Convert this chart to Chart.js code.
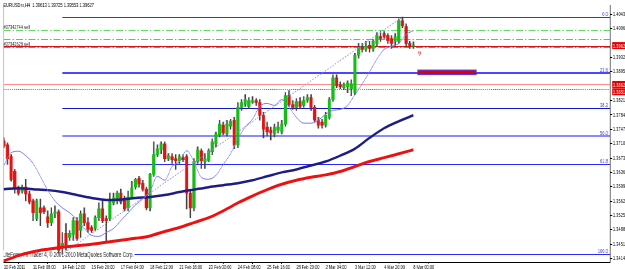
<!DOCTYPE html>
<html><head><meta charset="utf-8">
<script src="https://cdn.jsdelivr.net/npm/chart.js@4.4.1/dist/chart.umd.min.js"></script>
<style>
html,body{margin:0;padding:0;background:#fff;overflow:hidden;width:625px;height:269px;}
#wrap{width:900px;height:269px;transform:scaleX(0.6944444);transform-origin:0 0;}
canvas{display:block;}
</style></head><body>
<div id="wrap"><canvas id="c" width="900" height="269"></canvas></div>
<script>
// ---------- data ----------
const symbolTitle = 'EURUSDm,H4  1.39613 1.39725 1.39553 1.39627';
const copyrightText = 'LiteForex Fx Trader 4, \u00A9 2001-2010 MetaQuotes Software Corp.';
const xTickLabels = ['10 Feb 2011','11 Feb 08:00','14 Feb 12:00','15 Feb 20:00','17 Feb 04:00','18 Feb 12:00','21 Feb 16:00','23 Feb 00:00','24 Feb 08:00','25 Feb 16:00','28 Feb 20:00','2 Mar 04:00','3 Mar 12:00','4 Mar 20:00','8 Mar 00:00'];
const xTickIdx = [0,8,16,24,32,40,48,56,64,72,80,88,96,104,112];
const yTickValues = [1.34140,1.34510,1.34880,1.35250,1.35620,1.35990,1.36360,1.36730,1.37100,1.37470,1.37840,1.38210,1.38950,1.39320,1.40060,1.40430];

const opens = [1.37172,1.37070,1.36766,1.36385,1.35954,1.35878,1.35979,1.35802,1.35624,1.35167,1.35446,1.35446,1.35218,1.35066,1.35294,1.35345,1.34432,1.34787,1.34685,1.34761,1.35117,1.34863,1.35294,1.35066,1.34939,1.34914,1.35193,1.35421,1.35167,1.35167,1.35573,1.35624,1.35827,1.35700,1.35446,1.35726,1.35979,1.36208,1.36081,1.35928,1.35446,1.36309,1.36816,1.36943,1.37096,1.36715,1.36766,1.36715,1.36664,1.36740,1.36766,1.35827,1.35446,1.36639,1.36918,1.36639,1.36664,1.36893,1.37096,1.37324,1.37578,1.37349,1.37552,1.37704,1.37070,1.38034,1.38110,1.38060,1.38161,1.38212,1.38161,1.37831,1.37527,1.37451,1.37349,1.37451,1.37400,1.37603,1.38339,1.38110,1.38034,1.38186,1.38085,1.38212,1.38288,1.38034,1.37704,1.37654,1.37578,1.37780,1.38237,1.38795,1.38618,1.38542,1.38567,1.38516,1.38415,1.39379,1.39582,1.39531,1.39633,1.39556,1.39683,1.39861,1.39937,1.39886,1.39810,1.39734,1.39734,1.40267,1.40115,1.39683,1.39613];
const highs = [1.37248,1.37121,1.36816,1.36436,1.36005,1.36030,1.36182,1.35878,1.35675,1.35675,1.35675,1.35497,1.35370,1.35446,1.35497,1.35396,1.34812,1.35041,1.34863,1.35193,1.35193,1.35370,1.35446,1.35193,1.34990,1.35243,1.35573,1.35624,1.35243,1.35827,1.35827,1.35878,1.35928,1.35751,1.35878,1.36131,1.36208,1.36258,1.36157,1.35979,1.36334,1.37146,1.37070,1.37146,1.37146,1.36842,1.36842,1.36816,1.36816,1.36816,1.36816,1.35878,1.36715,1.37019,1.36969,1.36842,1.36969,1.37222,1.37400,1.37704,1.37654,1.37704,1.37730,1.37780,1.38161,1.38237,1.38364,1.38288,1.38313,1.38263,1.38237,1.37907,1.37654,1.37527,1.37603,1.37654,1.37704,1.38415,1.38465,1.38212,1.38263,1.38288,1.38313,1.38364,1.38364,1.38085,1.37780,1.37730,1.37907,1.38288,1.38871,1.38871,1.38694,1.38668,1.38719,1.38745,1.39430,1.39683,1.39683,1.39734,1.39734,1.39785,1.39962,1.39988,1.39988,1.39937,1.39886,1.39937,1.40317,1.40361,1.40191,1.39734,1.39725];
const lows = [1.36994,1.36563,1.36131,1.35827,1.35776,1.35827,1.35624,1.35548,1.35117,1.35117,1.34990,1.35294,1.34939,1.34990,1.35193,1.34279,1.34254,1.34356,1.34609,1.34609,1.34609,1.34685,1.34990,1.34812,1.34812,1.34863,1.35117,1.35066,1.34559,1.35117,1.35523,1.35548,1.35548,1.35370,1.35370,1.35700,1.35928,1.35979,1.35878,1.35396,1.35370,1.36258,1.36766,1.36842,1.36639,1.36664,1.36588,1.36436,1.36588,1.36639,1.35421,1.35193,1.35370,1.36588,1.36461,1.36461,1.36639,1.36816,1.37019,1.37273,1.37324,1.37298,1.37476,1.36969,1.36994,1.37958,1.38060,1.38009,1.38136,1.38085,1.37704,1.37248,1.37298,1.37197,1.37273,1.37375,1.37349,1.37552,1.38060,1.37983,1.37958,1.38009,1.38034,1.38161,1.37958,1.37654,1.37501,1.37501,1.37527,1.37730,1.38186,1.38542,1.38516,1.38491,1.38415,1.38339,1.38364,1.39303,1.39455,1.39480,1.39455,1.39480,1.39607,1.39734,1.39810,1.39683,1.39556,1.39633,1.39683,1.40089,1.39607,1.39556,1.39553];
const closes = [1.37045,1.36715,1.36182,1.35954,1.35827,1.35979,1.35802,1.35599,1.35320,1.35624,1.35320,1.35345,1.35066,1.35294,1.35345,1.34356,1.34533,1.34482,1.34787,1.35117,1.34660,1.35294,1.35066,1.34888,1.34863,1.35193,1.35421,1.35117,1.35117,1.35624,1.35700,1.35827,1.35599,1.35421,1.35726,1.35954,1.36182,1.36055,1.35928,1.35446,1.36309,1.36816,1.36969,1.37096,1.36715,1.36791,1.36690,1.36664,1.36766,1.36690,1.35827,1.35446,1.36639,1.36943,1.36664,1.36715,1.36918,1.37146,1.37349,1.37603,1.37375,1.37603,1.37679,1.37070,1.38034,1.38161,1.38237,1.38212,1.38212,1.38161,1.37831,1.37476,1.37400,1.37375,1.37527,1.37527,1.37603,1.38339,1.38110,1.38034,1.38186,1.38060,1.38212,1.38288,1.38034,1.37704,1.37578,1.37578,1.37831,1.38237,1.38795,1.38592,1.38567,1.38618,1.38668,1.38643,1.39379,1.39582,1.39531,1.39607,1.39556,1.39734,1.39886,1.39810,1.39861,1.39759,1.39683,1.39861,1.40267,1.40140,1.39683,1.39613,1.39627];

const maSlowIdx = [0,4,8,12,16,20,24,28,32,36,40,44,48,52,56,60,64,68,72,76,80,84,88,92,96,100,104,108,112];
const maNavy = [1.35928,1.35954,1.35928,1.35903,1.35852,1.35776,1.35700,1.35649,1.35662,1.35700,1.35726,1.35776,1.35852,1.35916,1.35979,1.36030,1.36081,1.36157,1.36258,1.36360,1.36436,1.36537,1.36639,1.36791,1.36969,1.37248,1.37501,1.37679,1.37831];
const maRed = [1.34076,1.34216,1.34317,1.34381,1.34432,1.34470,1.34508,1.34559,1.34609,1.34660,1.34723,1.34838,1.34939,1.35066,1.35193,1.35370,1.35573,1.35751,1.35916,1.36055,1.36157,1.36233,1.36296,1.36385,1.36512,1.36639,1.36740,1.36842,1.36943];
const maFastIdx = [0,2,4,6,8,10,12,14,16,18,20,22,24,26,28,30,32,34,36,38,40,42,44,46,48,50,52,54,56,58,60,62,64,66,68,70,72,74,76,78,80,82,84,86,88,90,92,94,96,98,100,102,104,106,108,110,112];
const maFast = [1.36537,1.36867,1.36905,1.36791,1.36588,1.36258,1.35903,1.35624,1.35446,1.35320,1.35142,1.34914,1.34736,1.34711,1.34812,1.34914,1.35117,1.35320,1.35523,1.35675,1.35878,1.36258,1.36157,1.36512,1.36639,1.36918,1.36639,1.36233,1.36182,1.36284,1.36563,1.36842,1.37222,1.37527,1.37730,1.38060,1.38136,1.38085,1.38237,1.38034,1.37780,1.37628,1.37628,1.37704,1.37857,1.37958,1.37983,1.38085,1.38364,1.38643,1.38948,1.39277,1.39531,1.39607,1.39683,1.39912,1.40013];

const fibLevels = [0.0, 23.6, 38.2, 50.0, 61.8, 100.0];
const fibPrices = [1.40361, 1.34254];      // 0% and 100% anchors
const fibIdx = [109, 16];                  // bars of the anchors
const orderPrices = [1.40030, 1.39802, 1.39600];
const orderNames = ['#37342744 sell', '', '#37342628 sell'];
const bidPrice = [1.39627];
const hLinePrices = [1.38625, 1.38515];
const rectIdx = [113.2, 129.2];
const rectPrices = [1.38996, 1.38879];
const markerIdx = [113.7];
const markerPrice = [1.39430];

// ---------- styles ----------
const FONT = "'Liberation Sans', Arial, sans-serif";
const fibColors = ['#3030ff','#4848ff','#1414c8','#8a8aff','#2a2aff','#2a2aff'];
const fibWidths = [1, 2, 1, 2, 1, 1];
const orderColors = ['#66d866','#f07a5a','#33c433'];
const hLineColors = ['#ff8c8c','#ff2a2a'];
const hLineDash = [[], [1.5, 1.5]];

const wickData = opens.map((o, i) => ({x: i, y: [lows[i], highs[i]]}));
const bodyData = opens.map((o, i) => ({x: i, y: [o, closes[i]]}));
const bodyColors = opens.map((o, i) => closes[i] >= o ? '#18bc18' : '#e01212');
const pts = (idx, vals) => idx.map((x, i) => ({x, y: vals[i]}));

function hline(ctx, x1, x2, y) { ctx.beginPath(); ctx.moveTo(x1, y); ctx.lineTo(x2, y); ctx.stroke(); }

const mt4Objects = {
  id: 'mt4Objects',
  beforeDatasetsDraw(chart) {
    const {ctx, chartArea: a, scales: {x, y}} = chart;
    ctx.save();
    ctx.beginPath(); ctx.rect(a.left, a.top, a.right - a.left, a.bottom - a.top); ctx.clip();
    ctx.strokeStyle = '#909090'; ctx.lineWidth = 1;
    ctx.beginPath(); ctx.moveTo(a.left + 0.5, a.top); ctx.lineTo(a.left + 0.5, a.bottom); ctx.stroke();
    orderPrices.forEach((p, i) => {
      ctx.strokeStyle = orderColors[i]; ctx.lineWidth = 1; ctx.setLineDash([10, 3, 2, 3]);
      hline(ctx, a.left, a.right, Math.round(y.getPixelForValue(p)) + 0.5);
    });
    ctx.setLineDash([]);
    hLinePrices.forEach((p, i) => {
      ctx.strokeStyle = hLineColors[i]; ctx.lineWidth = 1; ctx.setLineDash(hLineDash[i]);
      hline(ctx, a.left, a.right, Math.round(y.getPixelForValue(p)) + 0.5);
    });
    ctx.setLineDash([]);
    ctx.strokeStyle = '#e01010'; ctx.lineWidth = 1;
    hline(ctx, a.left, a.right, Math.round(y.getPixelForValue(bidPrice[0])) + 0.5);
    const fx = x.getPixelForValue(fibIdx[1]);
    fibLevels.forEach((lv, i) => {
      const p = fibPrices[0] - (fibPrices[0] - fibPrices[1]) * lv / 100;
      ctx.strokeStyle = fibColors[i]; ctx.lineWidth = fibWidths[i];
      const py = Math.round(y.getPixelForValue(p)) + (fibWidths[i] % 2 ? 0.5 : 0);
      hline(ctx, fx, a.right, py);
    });
    ctx.font = '6.6px ' + FONT;
    ctx.textBaseline = 'alphabetic'; ctx.textAlign = 'left';
    const cw = ctx.measureText(copyrightText).width;
    ctx.fillStyle = '#ffffff';
    ctx.fillRect(3, a.bottom - 11.5, cw + 2, 8.5);
    ctx.fillStyle = '#202020';
    ctx.fillText(copyrightText, 4, a.bottom - 5);
    const rx1 = x.getPixelForValue(rectIdx[0]), rx2 = x.getPixelForValue(rectIdx[1]);
    const ry1 = y.getPixelForValue(rectPrices[0]), ry2 = y.getPixelForValue(rectPrices[1]);
    ctx.fillStyle = '#e00000'; ctx.fillRect(rx1, ry1, rx2 - rx1, ry2 - ry1);
    ctx.strokeStyle = '#3a3aff'; ctx.lineWidth = 1; ctx.strokeRect(rx1, ry1, rx2 - rx1, ry2 - ry1);
    ctx.restore();
  },
  afterDatasetsDraw(chart) {
    const {ctx, chartArea: a, scales: {x, y}} = chart;
    ctx.save();
    ctx.fillStyle = '#000'; ctx.font = '5.8px ' + FONT; ctx.textAlign = 'left'; ctx.textBaseline = 'top';
    ctx.fillText(symbolTitle, 5, 2.5);
    ctx.textBaseline = 'alphabetic'; ctx.font = '5.6px ' + FONT; ctx.fillStyle = '#303030';
    orderPrices.forEach((p, i) => {
      if (orderNames[i]) ctx.fillText(orderNames[i], 5, Math.round(y.getPixelForValue(p)) - 1);
    });
    ctx.textAlign = 'right'; ctx.fillStyle = '#3333cc'; ctx.font = '5.8px ' + FONT;
    fibLevels.forEach((lv, i) => {
      const p = fibPrices[0] - (fibPrices[0] - fibPrices[1]) * lv / 100;
      ctx.fillText(lv.toFixed(1), a.right - 3, Math.round(y.getPixelForValue(p)) - 1);
    });
    ctx.restore();
  },
  afterDraw(chart) {
    const {ctx, chartArea: a, scales: {y}} = chart;
    ctx.save();
    ctx.font = '5.8px ' + FONT; ctx.textAlign = 'left'; ctx.textBaseline = 'middle';
    [bidPrice[0], hLinePrices[0], hLinePrices[1]].forEach((p, i) => {
      const py = y.getPixelForValue(p) + (i === 2 ? 3 : 0);
      ctx.fillStyle = '#e80000';
      ctx.fillRect(a.right + 3, py - 3.5, 30, 7);
      ctx.fillStyle = '#ffffff';
      ctx.fillText(p.toFixed(5), a.right + 4, py + 0.5);
    });
    ctx.restore();
  }
};

Chart.defaults.font.family = FONT;
new Chart(document.getElementById('c'), {
  type: 'bar',
  data: {
    datasets: [
      {type: 'bar', data: wickData, backgroundColor: '#404040', barThickness: 1.44, grouped: false, order: 10},
      {type: 'bar', data: bodyData, backgroundColor: bodyColors, barThickness: 3.9, grouped: false, minBarLength: 1, order: 9},
      {type: 'line', data: pts([fibIdx[1], fibIdx[0]], [fibPrices[1], fibPrices[0]]), borderColor: '#8c8cd8', borderWidth: 1, borderDash: [2, 2], pointRadius: 0, order: 8},
      {type: 'line', data: pts(maSlowIdx, maRed), borderColor: '#ee1010', borderWidth: 3, pointRadius: 0, tension: 0.4, cubicInterpolationMode: 'monotone', order: 5},
      {type: 'line', data: pts(maSlowIdx, maNavy), borderColor: '#1c1c84', borderWidth: 2.5, pointRadius: 0, tension: 0.4, cubicInterpolationMode: 'monotone', order: 4},
      {type: 'line', data: pts(maFastIdx, maFast), borderColor: '#7c7cf0', borderWidth: 1, pointRadius: 0, tension: 0.4, cubicInterpolationMode: 'monotone', order: 3},
      {type: 'line', data: pts(markerIdx, markerPrice), showLine: false, pointStyle: 'triangle', pointRotation: 180, pointRadius: 2.4, pointBorderColor: '#ff5a5a', pointBackgroundColor: 'rgba(0,0,0,0)', pointBorderWidth: 1, order: 1}
    ]
  },
  options: {
    responsive: false, devicePixelRatio: 1, animation: false,
    layout: {padding: {left: 2, top: 1, right: 0, bottom: 0}},
    plugins: {legend: {display: false}, tooltip: {enabled: false}},
    scales: {
      x: {
        type: 'linear', min: -0.085, max: 165.75, offset: false,
        grid: {display: true, drawOnChartArea: false, drawTicks: true, tickLength: 2, tickColor: '#000'},
        border: {display: true, color: '#000', width: 1},
        ticks: {autoSkip: false, maxRotation: 0, minRotation: 0, align: 'start', padding: 0, color: '#000', font: {size: 5.6}, callback: (v, i) => xTickLabels[i]},
        afterBuildTicks: (axis) => { axis.ticks = xTickIdx.map(v => ({value: v})); },
        afterFit: (axis) => { axis.height = 7; axis.paddingLeft = 0; axis.paddingRight = 0; }
      },
      y: {
        type: 'linear', position: 'right', min: 1.34051, max: 1.40673,
        grid: {display: true, drawOnChartArea: false, drawTicks: true, tickLength: 3, tickColor: '#000'},
        border: {display: true, color: '#000', width: 1},
        ticks: {autoSkip: false, padding: 1, color: '#000', font: {size: 5.8}, callback: (v) => Number(v).toFixed(5)},
        afterBuildTicks: (axis) => { axis.ticks = yTickValues.map(v => ({value: v})); },
        afterFit: (axis) => { axis.width = 21.6; axis.paddingTop = 0; axis.paddingBottom = 0; }
      }
    }
  },
  plugins: [mt4Objects]
});
</script>
</body></html>
